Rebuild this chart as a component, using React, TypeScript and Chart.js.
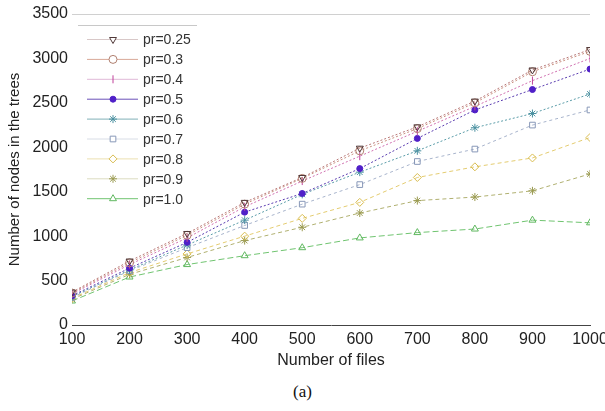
import React, { useEffect, useRef } from "react";
import { Chart, registerables, PointElement } from "chart.js";

Chart.register(...registerables);

const files = [100, 200, 300, 400, 500, 600, 700, 800, 900, 1000];
const pr025 = [370, 720, 1030, 1380, 1660, 1990, 2230, 2520, 2870, 3100];
const pr03 = [360, 700, 1010, 1360, 1650, 1960, 2210, 2500, 2850, 3080];
const pr04 = [350, 680, 980, 1330, 1620, 1900, 2180, 2460, 2750, 3000];
const pr05 = [330, 640, 930, 1270, 1480, 1760, 2100, 2420, 2650, 2880];
const pr06 = [320, 620, 900, 1180, 1470, 1720, 1960, 2220, 2380, 2600];
const pr07 = [310, 610, 870, 1120, 1360, 1580, 1840, 1980, 2250, 2420];
const pr08 = [300, 590, 800, 1000, 1200, 1380, 1660, 1780, 1880, 2110];
const pr09 = [290, 570, 760, 950, 1100, 1260, 1400, 1440, 1510, 1700];
const pr10 = [270, 540, 680, 780, 870, 980, 1040, 1080, 1180, 1150];
const yTicks = [0, 500, 1000, 1500, 2000, 2500, 3000, 3500];

const seriesLabels = ["pr=0.25", "pr=0.3", "pr=0.4", "pr=0.5", "pr=0.6", "pr=0.7", "pr=0.8", "pr=0.9", "pr=1.0"];
const seriesValues = [pr025, pr03, pr04, pr05, pr06, pr07, pr08, pr09, pr10];
const lineColors = ["#b87878", "#c99080", "#d070b0", "#5a3cb0", "#5a9ca8", "#a8b4cc", "#e4cc70", "#b0b070", "#70c470"];
const legendLineColors = ["#d8c8c8", "#d8a898", "#e0b8d8", "#6a50b8", "#80b0b8", "#d8dde6", "#ece0b0", "#dcdcc0", "#70c470"];
const markerColors = ["#503838", "#b08070", "#c0409a", "#5020c8", "#4a90a0", "#8898b8", "#d8bc50", "#9a9a50", "#60b860"];
const pointStyles = ["triangle", "circle", "line", "circle", "star", "rect", "rectRot", "star", "triangle"];
const pointRotations = [180, 0, 90, 0, 0, 0, 0, 0, 0];
const pointRadii = [4, 4, 4, 3, 4, 4, 4, 4, 4];
const filled = [false, false, false, true, false, false, false, false, false];
const dashes = [[2, 2], [2, 2], [2, 2], [2, 2], [2, 2], [3, 3], [4, 3], [4, 3], [6, 3]];

const FONT = "'Liberation Sans', Arial, sans-serif";

const legendPlugin = {
  id: "customLegend",
  afterDraw(chart: any) {
    const ctx = chart.ctx;
    ctx.save();
    ctx.strokeStyle = "#c8c8c8";
    ctx.lineWidth = 1;
    ctx.beginPath();
    ctx.moveTo(78, 25.5);
    ctx.lineTo(197, 25.5);
    ctx.stroke();
    chart.data.datasets.forEach((ds: any, i: number) => {
      const y = 39.5 + i * 19.9;
      ctx.strokeStyle = legendLineColors[i];
      ctx.setLineDash([]);
      ctx.lineWidth = 1;
      ctx.beginPath();
      ctx.moveTo(87, y);
      ctx.lineTo(138, y);
      ctx.stroke();
      const p: any = new PointElement({});
      p.x = 113;
      p.y = y;
      p.options = {
        pointStyle: pointStyles[i],
        rotation: pointRotations[i],
        radius: pointRadii[i],
        borderWidth: 1,
        borderColor: markerColors[i],
        backgroundColor: filled[i] ? markerColors[i] : "#ffffff",
      };
      p.draw(ctx);
      ctx.fillStyle = "#333";
      ctx.font = "14px " + FONT;
      ctx.textBaseline = "middle";
      ctx.textAlign = "left";
      ctx.fillText(ds.label, 143, y + 1);
    });
    ctx.restore();
  },
};

const framePlugin = {
  id: "frame",
  afterDraw(chart: any) {
    const { ctx, chartArea } = chart;
    ctx.save();
    ctx.strokeStyle = "#d0d0d0";
    ctx.lineWidth = 1;
    ctx.beginPath();
    ctx.moveTo(chartArea.left, chartArea.top + 0.5);
    ctx.lineTo(chartArea.right, chartArea.top + 0.5);
    ctx.stroke();
    ctx.restore();
  },
};

export default function App() {
  const ref = useRef<HTMLCanvasElement | null>(null);
  useEffect(() => {
    if (!ref.current) return;
    const chart = new Chart(ref.current, {
      type: "line",
      data: {
        labels: files,
        datasets: seriesValues.map((vals, i) => ({
          label: seriesLabels[i],
          data: vals.map((v, j) => ({ x: files[j], y: v })),
          borderColor: lineColors[i],
          borderWidth: 1,
          borderDash: dashes[i],
          pointStyle: pointStyles[i] as any,
          rotation: pointRotations[i],
          pointRadius: pointRadii[i],
          pointBorderWidth: 1,
          pointBorderColor: markerColors[i],
          pointBackgroundColor: filled[i] ? markerColors[i] : "rgba(255,255,255,0)",
          fill: false,
          tension: 0,
        })),
      },
      options: {
        animation: false,
        responsive: false,
        maintainAspectRatio: false,
        layout: { padding: { left: 0, right: 15, top: 14, bottom: 0 } },
        plugins: {
          legend: { display: false },
          tooltip: { enabled: false },
        },
        scales: {
          x: {
            type: "linear",
            min: 100,
            max: 1000,
            afterFit: (s: any) => { s.height = 45; s.paddingLeft = 0; s.paddingRight = 0; },
            afterBuildTicks: (s: any) => { s.ticks = files.map((v) => ({ value: v })); },
            grid: { display: false, drawTicks: false },
            border: { display: true, color: "#444", width: 1 },
            ticks: {
              color: "#222",
              font: { family: FONT, size: 16 },
              padding: 5,
              maxRotation: 0,
              autoSkip: false,
              callback: (v: any) => String(v),
            },
            title: {
              display: true,
              text: "Number of files",
              color: "#222",
              font: { family: FONT, size: 16 },
              padding: { top: 0, bottom: 0 },
            },
          },
          y: {
            min: 0,
            max: 3500,
            afterFit: (s: any) => { s.width = 72; s.paddingTop = 0; s.paddingBottom = 0; },
            afterBuildTicks: (s: any) => { s.ticks = yTicks.map((v) => ({ value: v })); },
            grid: { display: false, drawTicks: false },
            border: { display: false },
            ticks: {
              color: "#222",
              font: { family: FONT, size: 16 },
              padding: 4,
              callback: (v: any) => String(v),
            },
            title: {
              display: true,
              text: "Number of nodes in the trees",
              color: "#222",
              font: { family: FONT, size: 15 },
              padding: { top: 6, bottom: 0 },
            },
          },
        },
      },
      plugins: [framePlugin, legendPlugin],
    });
    return () => chart.destroy();
  }, []);
  return (
    <div style={{ position: "absolute", left: 0, top: 0, width: 605, height: 411, background: "#fff" }}>
      <canvas ref={ref} width={605} height={370} style={{ display: "block" }} />
      <div style={{ position: "absolute", left: 0, top: 382, width: 605, textAlign: "center", fontFamily: "'Liberation Serif', 'Times New Roman', serif", fontSize: 17, lineHeight: "20px", color: "#111" }}>
        (a)
      </div>
    </div>
  );
}
